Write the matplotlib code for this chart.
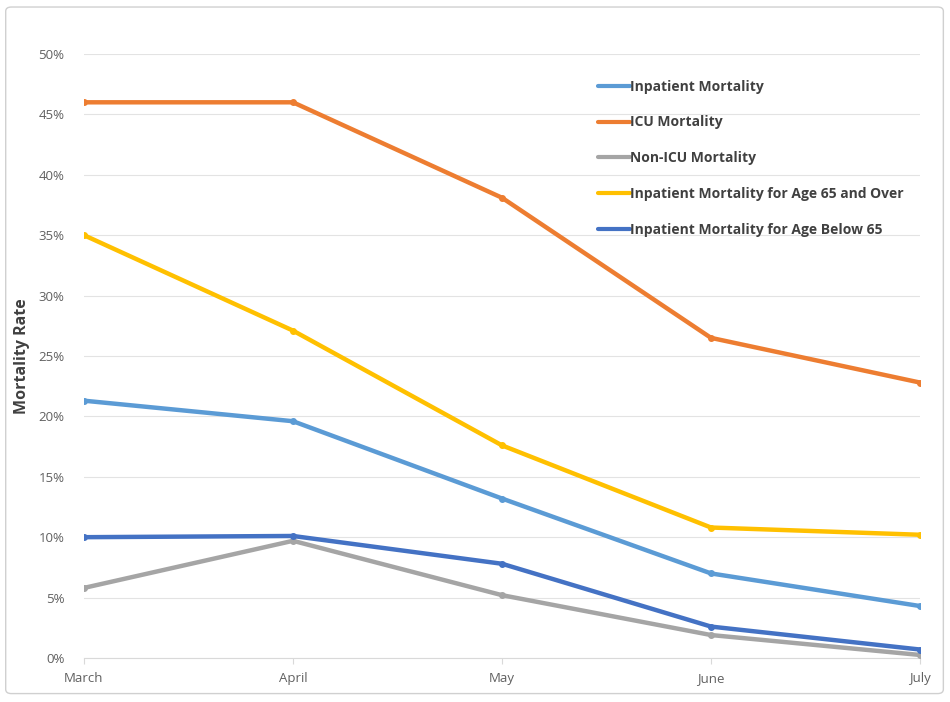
import matplotlib
matplotlib.use("Agg")
import matplotlib.pyplot as plt
from matplotlib.patches import FancyBboxPatch
from matplotlib.ticker import FuncFormatter, MultipleLocator

months = ["March", "April", "May", "June", "July"]
inpatient = [21.3, 19.6, 13.2, 7.0, 4.3]
icu = [46.0, 46.0, 38.1, 26.5, 22.8]
non_icu = [5.8, 9.7, 5.2, 1.9, 0.25]
age65_over = [35.0, 27.1, 17.6, 10.8, 10.2]
age_below65 = [10.0, 10.1, 7.8, 2.6, 0.7]

series = [
    ("Inpatient Mortality", inpatient, "#5B9BD5"),
    ("ICU Mortality", icu, "#ED7D31"),
    ("Non-ICU Mortality", non_icu, "#A5A5A5"),
    ("Inpatient Mortality for Age 65 and Over", age65_over, "#FFC000"),
    ("Inpatient Mortality for Age Below 65", age_below65, "#4472C4"),
]

plt.rcParams['font.family'] = ['Open Sans', 'DejaVu Sans']

fig = plt.figure(figsize=(9.5, 7.02), dpi=100)
border = FancyBboxPatch((0.006, 0.012), 0.987, 0.978, boxstyle="round,pad=0,rounding_size=0.006",
                        transform=fig.transFigure, facecolor="none", edgecolor="#D0D0D0", lw=1.0,
                        zorder=-1)
fig.patches.append(border)

ax = fig.add_axes([0.0884, 0.0627, 0.88, 0.8604])
ax.set_facecolor("none")
x = list(range(len(months)))
for label, vals, color in series:
    ax.plot(x, vals, color=color, lw=3.2, marker="o", markersize=4, label=label,
            solid_capstyle="round", zorder=3)

ax.set_xlim(0, len(months) - 1)
ax.set_ylim(0, 50)
ax.yaxis.set_major_locator(MultipleLocator(5))
ax.yaxis.set_major_formatter(FuncFormatter(lambda v, p: f"{int(round(v))}%"))
ax.set_xticks(x)
ax.set_xticklabels(months)
ax.grid(axis="y", color="#E3E3E3", lw=0.8, zorder=0)
for s in ["top", "right", "left"]:
    ax.spines[s].set_visible(False)
ax.spines["bottom"].set_color("#D9D9D9")
ax.tick_params(axis="y", length=0, labelsize=9.5, labelcolor="#606060", pad=14)
ax.tick_params(axis="x", length=4, color="#D9D9D9", labelsize=9.5, labelcolor="#606060", pad=6)
ax.set_ylabel("Mortality Rate", fontsize=11.5, fontweight="bold", color="#404040", labelpad=6)

leg = ax.legend(loc="upper left", bbox_to_anchor=(0.6295, 0.8866), bbox_transform=fig.transFigure,
                frameon=False, fontsize=10, handlelength=2.3, handletextpad=0.0,
                labelspacing=1.57, borderaxespad=0, borderpad=0)
for t in leg.get_texts():
    t.set_color("#404040")
    t.set_fontweight("bold")
for h in leg.get_lines():
    h.set_linewidth(3)
    h.set_marker("")

fig.savefig("out.png", dpi=100)
